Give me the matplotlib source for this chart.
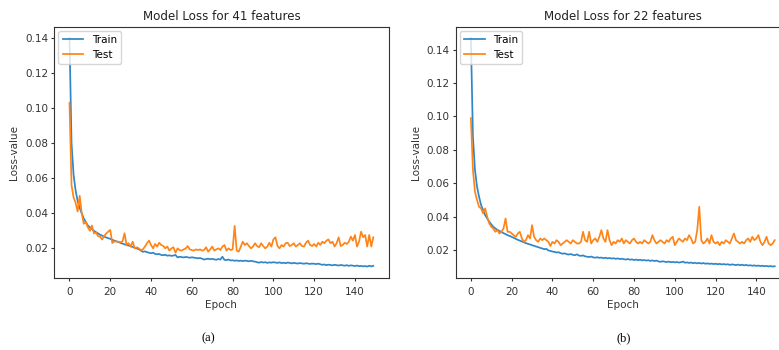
import numpy as np
import matplotlib
matplotlib.use("Agg")
import matplotlib.pyplot as plt

epochs = np.arange(150)

# (a) 41 features
train_41 = [0.140, 0.080, 0.062, 0.053, 0.047, 0.043, 0.040, 0.037, 0.035, 0.033,
            0.032, 0.031, 0.030, 0.0292, 0.0285, 0.0278, 0.0272, 0.0267, 0.0262, 0.0258,
            0.0254, 0.0249, 0.0244, 0.0240, 0.0236, 0.0231, 0.0227, 0.0223, 0.0219, 0.0216,
            0.0212, 0.0208, 0.0203, 0.0199, 0.0195, 0.0187, 0.0180, 0.0183, 0.0178, 0.0175,
            0.0172, 0.0175, 0.0168, 0.0166, 0.0168, 0.0162, 0.0161, 0.0163, 0.0158, 0.0160,
            0.0157, 0.0159, 0.0162, 0.0148, 0.0152, 0.0150, 0.0148, 0.0151, 0.0149, 0.0146,
            0.0149, 0.0147, 0.0145, 0.0143, 0.0145, 0.0141, 0.0136, 0.0139, 0.0141, 0.0138,
            0.0140, 0.0137, 0.0135, 0.0139, 0.0136, 0.0152, 0.0134, 0.0133, 0.0136, 0.0131,
            0.0132, 0.0129, 0.0131, 0.0128, 0.0130, 0.0127, 0.0130, 0.0128, 0.0126, 0.0129,
            0.0126, 0.0124, 0.0121, 0.0118, 0.0122, 0.0119, 0.0121, 0.0117, 0.0120, 0.0118,
            0.0121, 0.0119, 0.0117, 0.0120, 0.0116, 0.0118, 0.0115, 0.0119, 0.0117, 0.0114,
            0.0117, 0.0115, 0.0113, 0.0116, 0.0114, 0.0112, 0.0115, 0.0113, 0.0111, 0.0113,
            0.0112, 0.0110, 0.0113, 0.0109, 0.0106, 0.0108, 0.0104, 0.0107, 0.0105, 0.0103,
            0.0106, 0.0104, 0.0102, 0.0105, 0.0103, 0.0101, 0.0104, 0.0100, 0.0103, 0.0101,
            0.0099, 0.0102, 0.0098, 0.0100, 0.0097, 0.0099, 0.0096, 0.0101, 0.0097, 0.0100]
test_41 = [0.103, 0.056, 0.049, 0.046, 0.041, 0.050, 0.040, 0.034, 0.035, 0.032,
           0.030, 0.033, 0.0285, 0.029, 0.027, 0.0267, 0.025, 0.027, 0.0285, 0.0295,
           0.0305, 0.023, 0.024, 0.0238, 0.0238, 0.0235, 0.024, 0.0286, 0.022, 0.0229,
           0.021, 0.0238, 0.020, 0.0206, 0.020, 0.019, 0.0194, 0.021, 0.0229, 0.0244,
           0.0219, 0.020, 0.0225, 0.021, 0.0232, 0.0219, 0.0213, 0.020, 0.021, 0.0187,
           0.020, 0.0206, 0.0175, 0.020, 0.019, 0.0187, 0.0194, 0.020, 0.0213, 0.0194,
           0.019, 0.0187, 0.0194, 0.019, 0.0194, 0.0187, 0.019, 0.0206, 0.0181, 0.0194,
           0.021, 0.0187, 0.0194, 0.020, 0.019, 0.021, 0.0219, 0.0187, 0.020, 0.019,
           0.0194, 0.0328, 0.0187, 0.0181, 0.021, 0.0238, 0.0219, 0.0229, 0.0213, 0.020,
           0.021, 0.0229, 0.0213, 0.0206, 0.0229, 0.0213, 0.020, 0.021, 0.0232, 0.021,
           0.0251, 0.0263, 0.0213, 0.020, 0.0219, 0.021, 0.0229, 0.0232, 0.0213, 0.0219,
           0.0229, 0.021, 0.0219, 0.0229, 0.0213, 0.021, 0.0232, 0.0244, 0.0219, 0.0213,
           0.0225, 0.021, 0.0232, 0.0219, 0.0238, 0.0229, 0.0244, 0.0251, 0.0229, 0.0238,
           0.021, 0.0229, 0.0263, 0.0213, 0.0219, 0.0232, 0.0225, 0.0238, 0.0267, 0.0244,
           0.0276, 0.021, 0.0238, 0.0295, 0.0263, 0.0276, 0.021, 0.0276, 0.021, 0.0263]

# (b) 22 features
train_22 = [0.147, 0.088, 0.068, 0.058, 0.052, 0.047, 0.044, 0.041, 0.039, 0.037,
            0.0355, 0.034, 0.033, 0.0322, 0.0315, 0.0308, 0.0302, 0.0296, 0.029, 0.0285,
            0.028, 0.0274, 0.0268, 0.0262, 0.0257, 0.0252, 0.0247, 0.0242, 0.0238, 0.0234,
            0.023, 0.0226, 0.0222, 0.0218, 0.0214, 0.021, 0.0206, 0.0208, 0.0198, 0.0196,
            0.0192, 0.019, 0.0186, 0.0188, 0.0182, 0.0179, 0.0181, 0.0176, 0.0174, 0.0177,
            0.0172, 0.0170, 0.0175, 0.0168, 0.0166, 0.0169, 0.0163, 0.0161, 0.0159, 0.0162,
            0.0157, 0.0155, 0.0158, 0.0154, 0.0156, 0.0152, 0.0155, 0.0151, 0.0153, 0.0150,
            0.0152, 0.0148, 0.0151, 0.0147, 0.0149, 0.0146, 0.0144, 0.0147, 0.0143, 0.0145,
            0.0141, 0.0144, 0.0140, 0.0143, 0.0139, 0.0141, 0.0138, 0.0140, 0.0136, 0.0139,
            0.0135, 0.0138, 0.0133, 0.0130, 0.0134, 0.0131, 0.0129, 0.0132, 0.0128, 0.0130,
            0.0127, 0.0129, 0.0126, 0.0128, 0.0132, 0.0125, 0.0127, 0.0124, 0.0126, 0.0122,
            0.0125, 0.0121, 0.0124, 0.0120, 0.0123, 0.0119, 0.0121, 0.0118, 0.0120, 0.0117,
            0.0119, 0.0116, 0.0118, 0.0115, 0.0117, 0.0114, 0.0116, 0.0112, 0.0115, 0.0113,
            0.0111, 0.0114, 0.0110, 0.0113, 0.0109, 0.0112, 0.0108, 0.0110, 0.0107, 0.0109,
            0.0106, 0.0108, 0.0105, 0.0107, 0.0104, 0.0106, 0.0103, 0.0105, 0.0102, 0.0104]
test_22 = [0.099, 0.068, 0.055, 0.050, 0.046, 0.045, 0.042, 0.045, 0.040, 0.036,
           0.034, 0.033, 0.031, 0.032, 0.030, 0.031, 0.033, 0.039, 0.031, 0.031,
           0.030, 0.029, 0.028, 0.030, 0.031, 0.027, 0.025, 0.026, 0.029, 0.027,
           0.035, 0.028, 0.026, 0.025, 0.027, 0.026, 0.027, 0.026, 0.025, 0.0225,
           0.025, 0.024, 0.026, 0.025, 0.023, 0.024, 0.025, 0.026, 0.025, 0.024,
           0.026, 0.025, 0.024, 0.024, 0.025, 0.031, 0.026, 0.025, 0.031, 0.024,
           0.026, 0.027, 0.025, 0.028, 0.032, 0.027, 0.025, 0.032, 0.026, 0.023,
           0.025, 0.024, 0.026, 0.025, 0.027, 0.024, 0.026, 0.025, 0.024, 0.026,
           0.027, 0.025, 0.024, 0.025, 0.024, 0.026, 0.025, 0.024, 0.025, 0.029,
           0.026, 0.024, 0.025, 0.026, 0.025, 0.024, 0.026, 0.025, 0.027, 0.028,
           0.023, 0.025, 0.027, 0.026, 0.025, 0.027, 0.026, 0.029, 0.027, 0.024,
           0.025, 0.032, 0.046, 0.026, 0.024, 0.025, 0.027, 0.024, 0.029, 0.025,
           0.024, 0.025, 0.023, 0.025, 0.024, 0.026, 0.025, 0.024, 0.027, 0.030,
           0.026, 0.025, 0.024, 0.025, 0.024, 0.026, 0.027, 0.025, 0.028, 0.026,
           0.027, 0.029, 0.025, 0.023, 0.025, 0.028, 0.024, 0.023, 0.024, 0.026]

panels = [("Model Loss for 41 features", train_41, test_41, "(a)"),
          ("Model Loss for 22 features", train_22, test_22, "(b)")]
lefts = [54.3 / 779, 455.7 / 779]  # right panel runs past the edge, as in the source
cap_x = [208 / 779, 624 / 779]

fig = plt.figure(figsize=(7.79, 3.5), dpi=100)
for (title, tr, te, cap), x0, cx in zip(panels, lefts, cap_x):
    ax = fig.add_axes([x0, 72 / 350, 334.2 / 779, 251.5 / 350])
    ax.plot(epochs, tr, color='#2f86c8', lw=1.25, label='Train')
    ax.plot(epochs, te, color='#ff8418', lw=1.25, label='Test')
    ax.set_title(title, fontsize=8.6, pad=5, color='#222222')
    ax.set_xlabel('Epoch', fontsize=7.5, labelpad=2, color='#333333')
    ax.set_ylabel('Loss-value', fontsize=7.5, labelpad=4, color='#333333')
    ax.set_xticks(np.arange(0, 141, 20))
    ax.set_yticks([0.02, 0.04, 0.06, 0.08, 0.10, 0.12, 0.14])
    ax.tick_params(labelsize=7.5, length=2.5, pad=2, colors='#333333')
    ax.tick_params(axis='x', pad=4)
    for s in ax.spines.values():
        s.set_color('#333333')
    ax.legend(loc='upper left', fontsize=7.5, handlelength=2, borderaxespad=0.4,
              labelspacing=0.45)
    fig.text(cx, 12 / 350, cap, family='Liberation Serif', fontsize=9,
             ha='center', va='center')

fig.savefig('out.png', dpi=100)
